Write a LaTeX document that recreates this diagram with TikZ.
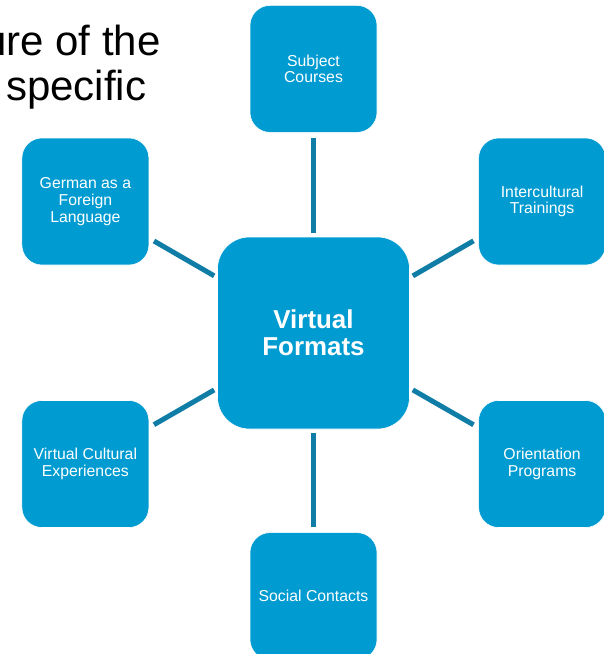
\documentclass[tikz,border=0pt]{standalone}
\usepackage{fontspec}
\setmainfont{Liberation Sans}
\usepackage{tikz}
\usetikzlibrary{positioning}
\definecolor{tileblue}{RGB}{0,155,208}
\definecolor{linkblue}{RGB}{15,125,166}

\begin{document}
\begin{tikzpicture}[
    x=1pt, y=1pt,
    tile/.style={rectangle, fill=tileblue, draw=white, line width=0.6pt, rounded corners=20pt, align=center, text=white, minimum width=127pt, minimum height=127pt, inner sep=2pt, font=\fontsize{15.8}{16.7}\selectfont},
    hub/.style={tile, rounded corners=32pt, minimum width=192pt, minimum height=192pt, font=\bfseries\fontsize{25.9}{27.3}\selectfont},
    link/.style={draw=linkblue, line width=5pt, shorten <=3.5pt, shorten >=5.5pt}
]
    \useasboundingbox (0,0) rectangle (604,-654);
    \clip (0,0) rectangle (604,-654);

    % slide title, cut off by the frame
    \node[anchor=base west, inner sep=0pt, font=\fontsize{42}{46}\selectfont] (ttla) at (-17,-55) {ure of the};
    \node[anchor=base west, inner sep=0pt, font=\fontsize{42}{46}\selectfont] (ttlb) at (6,-100) {specific};

    \node[hub] (vf) at (313.5,-333) {Virtual\\Formats};
    \node[tile, above=104pt of vf] (sub) {Subject\\Courses};
    \node[tile, below=103pt of vf] (soc) {Social Contacts};
    \node[tile, left=68pt of vf, yshift=131.5pt] (ger) {German as a\\Foreign\\Language};
    \node[tile, right=68.5pt of vf, yshift=131.5pt] (icx) {Intercultural\\Trainings};
    \node[tile, left=68pt of vf, yshift=-131pt] (vce) {Virtual Cultural\\Experiences};
    \node[tile, right=68.5pt of vf, yshift=-131pt] (ori) {Orientation\\Programs};

    \draw[link] (vf) -- (sub);
    \draw[link] (vf) -- (icx);
    \draw[link] (vf) -- (ori);
    \draw[link] (vf) -- (soc);
    \draw[link] (vf) -- (vce);
    \draw[link] (vf) -- (ger);
\end{tikzpicture}
\end{document}
